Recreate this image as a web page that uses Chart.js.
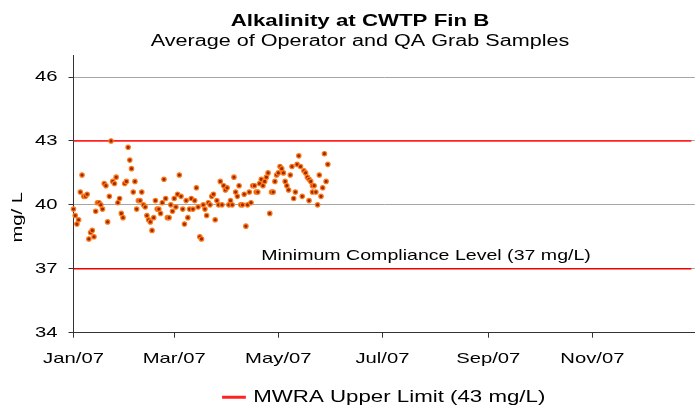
<!DOCTYPE html>
<html>
<head>
<meta charset="utf-8">
<script src="https://cdn.jsdelivr.net/npm/chart.js@4.4.1/dist/chart.umd.min.js"></script>
<style>
  body { margin: 0; background: #fff; }
  canvas { display: block; }
</style>
</head>
<body>
<canvas id="chart" width="700" height="409"></canvas>
<script>
// day of year (0 = Jan 1 2007) and alkalinity in mg/L
var sampleDays = [0, 1, 2, 3, 4, 5, 6, 7, 8, 9, 10, 11, 12, 13, 14, 15, 16, 17, 18, 19,
  20, 21, 22, 23, 24, 25, 26, 27, 28, 29, 30, 31, 32, 33, 34, 35, 36, 37, 38, 39,
  40, 41, 42, 43, 44, 45, 46, 47, 48, 49, 50, 51, 52, 53, 54, 55, 56, 57, 58, 59,
  60, 61, 62, 63, 64, 65, 66, 67, 68, 69, 70, 71, 72, 73, 74, 75, 76, 77, 78, 79,
  80, 81, 82, 83, 84, 85, 86, 87, 88, 89, 90, 91, 92, 93, 94, 95, 96, 97, 98, 99,
  100, 101, 102, 103, 104, 105, 106, 107, 108, 109, 110, 111, 112, 113, 114, 115, 116, 117, 118, 119,
  120, 121, 122, 123, 124, 125, 126, 127, 128, 129, 130, 131, 132, 133, 134, 135, 136, 137, 138, 138,
  139, 140, 140, 141, 142, 143, 144, 145, 146, 147, 148, 149];
var alkalinity = [39.8, 39.5, 39.1, 39.3, 40.6, 41.4, 40.4, 40.4, 40.5, 38.4,
  38.7, 38.8, 38.5, 39.7, 40.1, 40.1, 40.0, 39.8, 41.0, 40.9,
  39.2, 40.4, 43.0, 41.1, 41.0, 41.3, 40.1, 40.3, 39.6, 39.4,
  41.0, 41.1, 42.7, 42.1, 41.7, 40.6, 41.1, 39.8, 40.2, 40.2,
  40.6, 40.0, 39.9, 39.5, 39.3, 39.2, 38.8, 39.4, 40.2, 39.8,
  39.8, 39.6, 40.1, 41.2, 40.3, 39.4, 39.4, 40.0, 39.7, 40.3,
  39.9, 40.5, 41.4, 40.4, 39.8, 39.1, 40.2, 39.4, 39.8, 40.3,
  39.8, 40.2, 40.8, 39.9, 38.5, 38.4, 40.0, 39.8, 39.5, 40.1,
  40.0, 40.4, 40.5, 39.3, 40.2, 40.0, 41.1, 40.0, 40.9, 40.7,
  40.8, 40.0, 40.2, 40.0, 41.3, 40.6, 40.4, 40.9, 40.0, 40.0,
  40.5, 39.0, 40.0, 40.6, 40.1, 40.9, 40.9, 40.6, 40.6, 41.0,
  41.2, 40.9, 41.1, 41.3, 41.5, 39.6, 40.6, 40.6, 41.1, 41.4,
  41.5, 41.8, 41.7, 41.5, 41.1, 40.9, 40.7, 41.4, 41.8, 40.3,
  40.6, 41.9, 42.3, 41.8, 40.4, 41.6, 41.5, 41.3, 41.2, 40.2,
  41.1, 40.9, 40.6, 40.9, 40.6, 40.0, 41.4, 40.4, 40.8, 42.4,
  41.1, 41.9];

var limitDays = [0, 362];
var upperLimit = 43;
var minLevel = 37;

var tickDays = [0, 59, 120, 181, 243, 304];
var tickLabels = ['Jan/07', 'Mar/07', 'May/07', 'Jul/07', 'Sep/07', 'Nov/07'];
var yTicks = [34, 37, 40, 43, 46];

var FONT = "'Liberation Sans', Arial, sans-serif";
Chart.defaults.font.family = FONT;
Chart.defaults.color = '#000';

// the original chart's lettering is drawn wide, so stretch text along its baseline
var WIDEN = 1.35;
var canvas = document.getElementById('chart');
var ctx = canvas.getContext('2d');
var rawFill = ctx.fillText.bind(ctx);
var rawMeasure = ctx.measureText.bind(ctx);
ctx.fillText = function (text, x, y, maxWidth) {
    ctx.save();
    ctx.translate(x, y);
    ctx.scale(WIDEN, 1);
    if (maxWidth === undefined) rawFill(text, 0, 0);
    else rawFill(text, 0, 0, maxWidth / WIDEN);
    ctx.restore();
};
ctx.measureText = function (text) {
    var m = rawMeasure(text);
    return {
        width: m.width * WIDEN,
        actualBoundingBoxAscent: m.actualBoundingBoxAscent,
        actualBoundingBoxDescent: m.actualBoundingBoxDescent,
        actualBoundingBoxLeft: m.actualBoundingBoxLeft * WIDEN,
        actualBoundingBoxRight: m.actualBoundingBoxRight * WIDEN
    };
};

function line(days, value) {
    return days.map(function (d) { return {x: d, y: value}; });
}

// y title and the label of the 37 mg/L line
var extraText = {
    id: 'extraText',
    afterDraw: function (chart) {
        var c = chart.ctx, area = chart.chartArea;
        c.save();
        c.fillStyle = '#000';
        c.font = '14.5px ' + FONT;
        c.textBaseline = 'middle';
        c.textAlign = 'left';
        c.fillText(chart.data.datasets[2].label,
            chart.scales.x.getPixelForValue(110), chart.scales.y.getPixelForValue(37.6));
        c.font = '15px ' + FONT;
        c.translate(18, (area.top + area.bottom) / 2 + 23);
        c.rotate(-Math.PI / 2);
        c.textAlign = 'center';
        c.fillText('mg/ L', 0, 0);
        c.restore();
    }
};

var config = {
    type: 'scatter',
    data: {
        datasets: [{
            label: 'Alkalinity',
            data: sampleDays.map(function (d, i) { return {x: d, y: alkalinity[i]}; }),
            pointRadius: 2.2,
            pointBackgroundColor: '#9A2A00',
            pointBorderColor: '#FF7A1A',
            pointBorderWidth: 1.2,
            clip: false
        }, {
            label: 'MWRA Upper Limit (43 mg/L)',
            data: line(limitDays, upperLimit),
            showLine: true,
            borderColor: '#FF2222',
            backgroundColor: '#FF2222',
            borderWidth: 1.8,
            pointRadius: 0
        }, {
            label: 'Minimum Compliance Level (37 mg/L)',
            data: line(limitDays, minLevel),
            showLine: true,
            borderColor: '#EE0000',
            backgroundColor: '#EE0000',
            borderWidth: 1.6,
            pointRadius: 0
        }]
    },
    options: {
        responsive: false,
        animation: false,
        layout: {padding: {left: 20, right: 0, top: 0, bottom: 0}},
        plugins: {
            title: {
                display: true,
                text: 'Alkalinity at CWTP Fin B',
                font: {size: 16.5, weight: 'bold'},
                padding: {top: 12, bottom: 0}
            },
            subtitle: {
                display: true,
                text: 'Average of Operator and QA Grab Samples',
                font: {size: 16},
                padding: {top: 0, bottom: 4.7}
            },
            legend: {
                position: 'bottom',
                fullSize: false,
                maxHeight: 20,
                labels: {
                    boxWidth: 22,
                    boxHeight: 1,
                    padding: 0,
                    font: {size: 16.5},
                    filter: function (item) { return item.datasetIndex === 1; }
                }
            },
            tooltip: {enabled: false}
        },
        scales: {
            x: {
                type: 'linear',
                min: 0,
                max: 364,
                afterBuildTicks: function (scale) {
                    scale.ticks = tickDays.map(function (d) { return {value: d}; });
                },
                afterFit: function (scale) { scale.height = 56.3; },
                ticks: {
                    font: {size: 15},
                    padding: 12.6,
                    maxRotation: 0,
                    autoSkip: false,
                    callback: function (v) { return tickLabels[tickDays.indexOf(v)]; }
                },
                grid: {drawOnChartArea: false, drawTicks: true, tickLength: 5, tickColor: '#333'},
                border: {color: '#333'}
            },
            y: {
                min: 34,
                max: 47,
                afterBuildTicks: function (scale) {
                    scale.ticks = yTicks.map(function (v) { return {value: v}; });
                },
                afterFit: function (scale) { scale.width = 53.5; },
                ticks: {font: {size: 15}, padding: 11},
                grid: {color: '#A6A6A6', tickLength: 5, tickColor: '#333'},
                border: {color: '#333'}
            }
        }
    },
    plugins: [extraText]
};

var chart = new Chart(ctx, config);
</script>
</body>
</html>
